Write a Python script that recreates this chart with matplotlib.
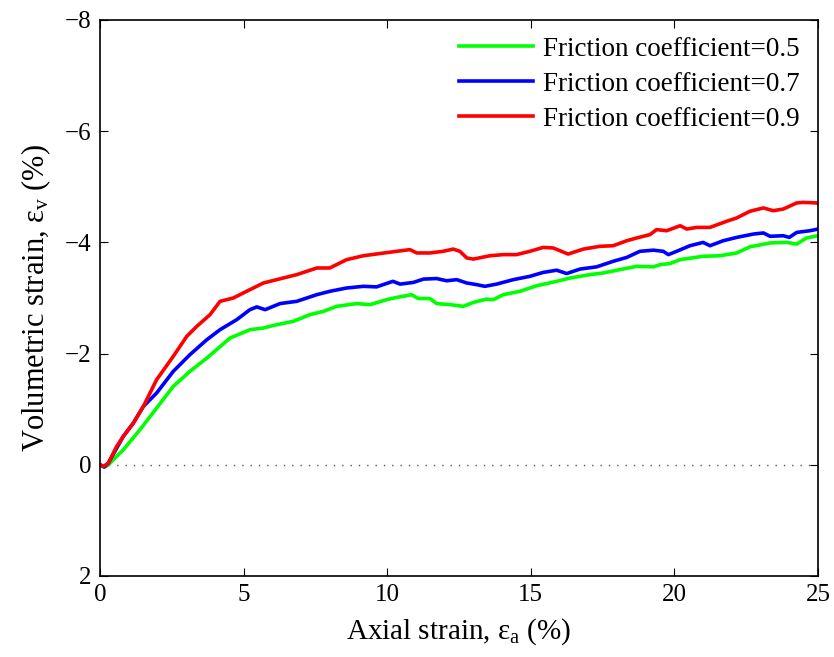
import matplotlib
matplotlib.use("Agg")
import matplotlib.pyplot as plt

plt.rcParams['font.family'] = ['Liberation Serif', 'DejaVu Serif']
plt.rcParams['mathtext.fontset'] = 'custom'
plt.rcParams['mathtext.rm'] = 'Liberation Serif'
plt.rcParams['mathtext.it'] = 'Liberation Serif:italic'

# Axial strain (%) and volumetric strain (%) for each friction coefficient
x_05 = [0, 0.15, 0.29, 0.81, 1.39, 1.97, 2.55, 3.13, 3.72, 4.53, 5.22, 5.69, 6.15, 6.73, 7.31,
        7.78, 8.24, 8.94, 9.40, 9.98, 10.33, 10.85, 11.08, 11.49, 11.72, 12.19, 12.65, 13.0,
        13.46, 13.69, 14.04, 14.62, 15.2, 15.9, 16.37, 17.06, 17.52, 18.1, 18.69, 19.27, 19.5,
        19.85, 20.2, 21.0, 21.59, 22.17, 22.63, 23.33, 23.91, 24.26, 24.6, 25.0]
y_05 = [0, 0.04, 0.0, -0.27, -0.63, -1.02, -1.41, -1.68, -1.92, -2.28, -2.43, -2.46, -2.52,
        -2.58, -2.70, -2.76, -2.85, -2.90, -2.88, -2.97, -3.01, -3.06, -2.99, -2.99, -2.90,
        -2.88, -2.85, -2.92, -2.98, -2.97, -3.06, -3.12, -3.22, -3.30, -3.36, -3.42, -3.45,
        -3.51, -3.57, -3.56, -3.60, -3.62, -3.69, -3.75, -3.76, -3.81, -3.92, -3.99, -4.00,
        -3.97, -4.08, -4.12]

x_07 = [0, 0.15, 0.29, 0.81, 1.16, 1.51, 1.97, 2.55, 3.13, 3.72, 4.18, 4.76, 5.22, 5.46, 5.75,
        6.27, 6.85, 7.55, 8.0, 8.59, 9.17, 9.63, 10.2, 10.45, 10.91, 11.26, 11.72, 12.07, 12.42,
        12.77, 13.12, 13.4, 13.81, 14.39, 14.97, 15.43, 15.9, 16.25, 16.71, 17.29, 17.87,
        18.34, 18.8, 19.27, 19.61, 19.79, 20.08, 20.54, 21.0, 21.24, 21.7, 22.17, 22.75, 23.1,
        23.33, 23.79, 24.0, 24.26, 24.72, 25.0]
y_07 = [0, 0.04, -0.03, -0.51, -0.75, -1.05, -1.29, -1.68, -1.98, -2.25, -2.43, -2.61, -2.79,
        -2.84, -2.79, -2.90, -2.94, -3.06, -3.12, -3.18, -3.21, -3.20, -3.30, -3.25, -3.28,
        -3.34, -3.35, -3.31, -3.33, -3.27, -3.24, -3.21, -3.25, -3.33, -3.39, -3.46, -3.50,
        -3.44, -3.52, -3.56, -3.66, -3.73, -3.84, -3.86, -3.84, -3.78, -3.84, -3.94, -4.00,
        -3.94, -4.03, -4.09, -4.15, -4.17, -4.11, -4.12, -4.09, -4.18, -4.21, -4.24]

x_09 = [0, 0.12, 0.29, 0.58, 0.81, 1.16, 1.51, 1.97, 2.55, 3.02, 3.37, 3.83, 4.18, 4.64, 5.22,
        5.69, 6.15, 6.85, 7.55, 8.0, 8.59, 9.17, 9.75, 10.33, 10.79, 11.03, 11.49, 11.95, 12.3,
        12.53, 12.77, 13.0, 13.58, 14.04, 14.5, 14.97, 15.43, 15.78, 16.3, 16.83, 17.41, 17.87,
        18.34, 18.69, 19.15, 19.38, 19.73, 20.2, 20.43, 20.78, 21.24, 21.82, 22.17, 22.63,
        23.1, 23.44, 23.79, 24.26, 24.49, 24.95, 25.0]
y_09 = [0, 0.03, -0.03, -0.33, -0.51, -0.75, -1.05, -1.53, -1.95, -2.31, -2.49, -2.70, -2.94,
        -3.00, -3.15, -3.27, -3.33, -3.42, -3.54, -3.54, -3.69, -3.76, -3.80, -3.84, -3.87,
        -3.81, -3.81, -3.84, -3.88, -3.84, -3.72, -3.70, -3.76, -3.78, -3.78, -3.84, -3.91,
        -3.90, -3.79, -3.88, -3.93, -3.94, -4.03, -4.08, -4.14, -4.23, -4.21, -4.30, -4.24,
        -4.27, -4.27, -4.38, -4.44, -4.56, -4.62, -4.57, -4.60, -4.71, -4.72, -4.71, -4.70]

labels = ['Friction coefficient=0.5', 'Friction coefficient=0.7', 'Friction coefficient=0.9']
colors = ['#00ff00', '#0000ff', '#ff0000']

fig = plt.figure(figsize=(8.34, 6.57), dpi=100)
ax = fig.add_axes([100/834, 1-576/657, 718/834, 556/657])

for xs, ys, lab, c in zip([x_05, x_07, x_09], [y_05, y_07, y_09], labels, colors):
    ax.plot(xs, ys, color=c, lw=2.6, label=lab)

ax.axhline(0, color='#555555', lw=1.0, ls=(0, (1, 5)), zorder=0)

ax.set_xlim(0, 25)
ax.set_ylim(2, -8)
ax.set_xticks([0, 5, 10, 15, 20, 25])
ax.set_yticks([2, 0, -2, -4, -6, -8])
ax.tick_params(direction='in', top=True, right=True, labelsize=18, length=6, width=0.8, pad=6)
for s in ax.spines.values():
    s.set_linewidth(1.2)

ax.set_xlabel(r'Axial strain, ε$_{\mathregular{a}}$ (%)', fontsize=21, labelpad=7)
ax.set_ylabel(r'Volumetric strain, ε$_{\mathregular{v}}$ (%)', fontsize=22, labelpad=9)

ax.legend(loc='upper right', bbox_to_anchor=(0.975, 0.970), frameon=False, fontsize=19.5,
          handlelength=2.7, handletextpad=0.4, labelspacing=0.37, borderpad=0,
          borderaxespad=0)

fig.savefig('out.png', dpi=100)
